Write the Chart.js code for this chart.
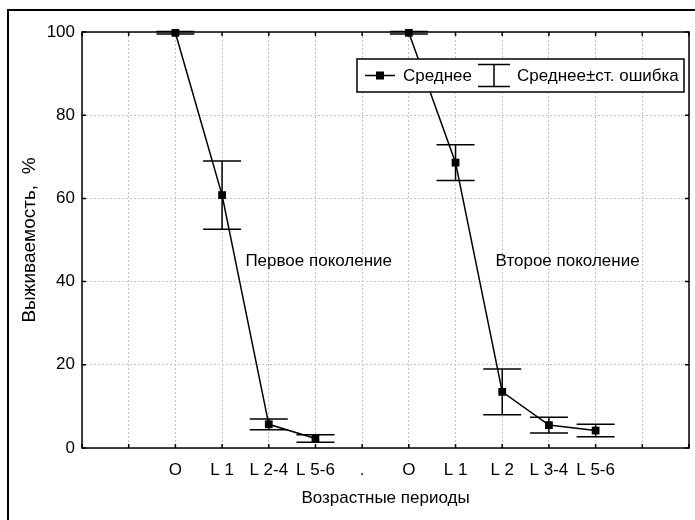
<!DOCTYPE html>
<html>
<head>
<meta charset="utf-8">
<script src="https://cdn.jsdelivr.net/npm/chart.js@4.4.1/dist/chart.umd.min.js"></script>
<style>
html, body { margin: 0; padding: 0; background: #fff; }
#wrap { position: relative; width: 695px; height: 520px; }
</style>
</head>
<body>
<div id="wrap"><canvas id="c" width="695" height="520"></canvas></div>
<script>
// categories (empty ones are the blank slots at the edges)
var periods = ['', '', 'O', 'L 1', 'L 2-4', 'L 5-6', '.', 'O', 'L 1', 'L 2', 'L 3-4', 'L 5-6', '', ''];
// first generation: O, L 1, L 2-4, L 5-6
var gen1Mean = [99.8, 60.8, 5.7, 2.3];
var gen1Err = [0.3, 8.2, 1.3, 0.9];
// second generation: O, L 1, L 2, L 3-4, L 5-6
var gen2Mean = [99.8, 68.6, 13.5, 5.5, 4.2];
var gen2Err = [0.3, 4.3, 5.5, 1.9, 1.5];
var yTicks = [0, 20, 40, 60, 80, 100];
var notes = ['Первое поколение', 'Второе поколение'];
var legendText = ['Среднее', 'Среднее±ст. ошибка'];

var gen1Start = periods.indexOf('O');
var gen2Start = periods.indexOf('O', gen1Start + 1);

function spread(vals, start) {
  var a = periods.map(function () { return null; });
  vals.forEach(function (v, i) { a[start + i] = v; });
  return a;
}
var meanAll = spread(gen1Mean, gen1Start);
gen2Mean.forEach(function (v, i) { meanAll[gen2Start + i] = v; });
var errAll = spread(gen1Err, gen1Start);
gen2Err.forEach(function (v, i) { errAll[gen2Start + i] = v; });

Chart.defaults.font.family = '"Liberation Sans", Arial, sans-serif';
Chart.defaults.font.size = 17;
Chart.defaults.color = '#000';

var FONT = '17px "Liberation Sans", Arial, sans-serif';

var decor = {
  id: 'decor',
  beforeDraw: function (chart) {
    var ctx = chart.ctx;
    ctx.save();
    ctx.fillStyle = '#fff';
    ctx.fillRect(0, 0, chart.width, chart.height);
    ctx.strokeStyle = '#000';
    ctx.lineWidth = 2;
    ctx.beginPath();
    ctx.moveTo(8, chart.height + 5);
    ctx.lineTo(8, 10);
    ctx.lineTo(chart.width + 5, 10);
    ctx.stroke();
    ctx.restore();
  },
  afterDatasetsDraw: function (chart) {
    var ctx = chart.ctx, xs = chart.scales.x, ys = chart.scales.y;
    ctx.save();
    ctx.strokeStyle = '#000';
    ctx.lineWidth = 1.5;
    errAll.forEach(function (e, i) {
      if (e === null) return;
      var m = meanAll[i];
      var x = xs.getPixelForValue(i);
      var t = ys.getPixelForValue(m + e), b = ys.getPixelForValue(m - e);
      ctx.beginPath();
      ctx.moveTo(x, t); ctx.lineTo(x, b);
      ctx.moveTo(x - 19, t); ctx.lineTo(x + 19, t);
      ctx.moveTo(x - 19, b); ctx.lineTo(x + 19, b);
      ctx.stroke();
    });
    ctx.restore();
  },
  afterDraw: function (chart) {
    var ctx = chart.ctx, a = chart.chartArea, xs = chart.scales.x, ys = chart.scales.y;
    ctx.save();
    ctx.strokeStyle = '#000';
    ctx.lineWidth = 1.5;
    ctx.strokeRect(a.left, a.top, a.right - a.left, a.bottom - a.top);
    ctx.beginPath();
    periods.forEach(function (p, i) {
      var x = xs.getPixelForValue(i);
      ctx.moveTo(x, a.bottom); ctx.lineTo(x, a.bottom - 4);
      ctx.moveTo(x, a.top); ctx.lineTo(x, a.top + 4);
    });
    yTicks.forEach(function (v) {
      var y = ys.getPixelForValue(v);
      ctx.moveTo(a.left, y); ctx.lineTo(a.left + 4, y);
      ctx.moveTo(a.right, y); ctx.lineTo(a.right - 4, y);
    });
    ctx.stroke();

    // group notes
    ctx.font = FONT;
    ctx.fillStyle = '#000';
    ctx.textAlign = 'center';
    ctx.textBaseline = 'middle';
    ctx.fillText(notes[0], xs.getPixelForValue(5.07), ys.getPixelForValue(44.8));
    ctx.fillText(notes[1], xs.getPixelForValue(10.4), ys.getPixelForValue(44.8));

    // legend
    var L = a.right - 332, T = a.top + 27, W = 327, H = 33, cy = T + H / 2;
    ctx.fillStyle = '#fff';
    ctx.fillRect(L, T, W, H);
    ctx.lineWidth = 1.5;
    ctx.strokeRect(L, T, W, H);
    ctx.beginPath();
    ctx.moveTo(L + 8, cy); ctx.lineTo(L + 38, cy);
    ctx.moveTo(L + 137, cy - 11); ctx.lineTo(L + 137, cy + 11);
    ctx.moveTo(L + 121, cy - 11); ctx.lineTo(L + 153, cy - 11);
    ctx.moveTo(L + 121, cy + 11); ctx.lineTo(L + 153, cy + 11);
    ctx.stroke();
    ctx.fillStyle = '#000';
    ctx.fillRect(L + 23 - 4, cy - 4, 8, 8);
    ctx.textAlign = 'left';
    ctx.fillText(legendText[0], L + 46, cy + 1);
    ctx.fillText(legendText[1], L + 160, cy + 1);
    ctx.restore();
  }
};

new Chart(document.getElementById('c'), {
  type: 'line',
  data: {
    labels: periods,
    datasets: [{
      label: legendText[0],
      data: meanAll,
      borderColor: '#000',
      borderWidth: 1.5,
      backgroundColor: '#000',
      pointStyle: 'rect',
      pointRadius: 5.5,
      pointHoverRadius: 5.5,
      pointBackgroundColor: '#000',
      pointBorderColor: '#000',
      pointBorderWidth: 0,
      tension: 0,
      spanGaps: false,
      clip: false
    }]
  },
  options: {
    responsive: false,
    animation: false,
    devicePixelRatio: 1,
    layout: { padding: { left: 18, top: 32, right: 6, bottom: 10 } },
    plugins: { legend: { display: false }, tooltip: { enabled: false } },
    scales: {
      x: {
        type: 'category',
        offset: false,
        grid: { color: '#c4c4c4', lineWidth: 1, drawTicks: false },
        border: { display: false, dash: [2, 2] },
        ticks: { autoSkip: false, maxRotation: 0, minRotation: 0, padding: 12, color: '#000' },
        title: { display: true, text: 'Возрастные периоды', color: '#000', padding: { top: 0, bottom: 1 } },
        afterFit: function (s) { s.height = 62; s.paddingLeft = 0; s.paddingRight = 0; }
      },
      y: {
        min: 0,
        max: 100,
        grid: { color: '#c4c4c4', lineWidth: 1, drawTicks: false },
        border: { display: false, dash: [2, 2] },
        ticks: { stepSize: 20, padding: 7, color: '#000' },
        title: { display: true, text: 'Выживаемость,  %', color: '#000', font: { size: 19 }, padding: { top: 0, bottom: 0 } },
        afterFit: function (s) { s.width = 64; }
      }
    }
  },
  plugins: [decor]
});
</script>
</body>
</html>
